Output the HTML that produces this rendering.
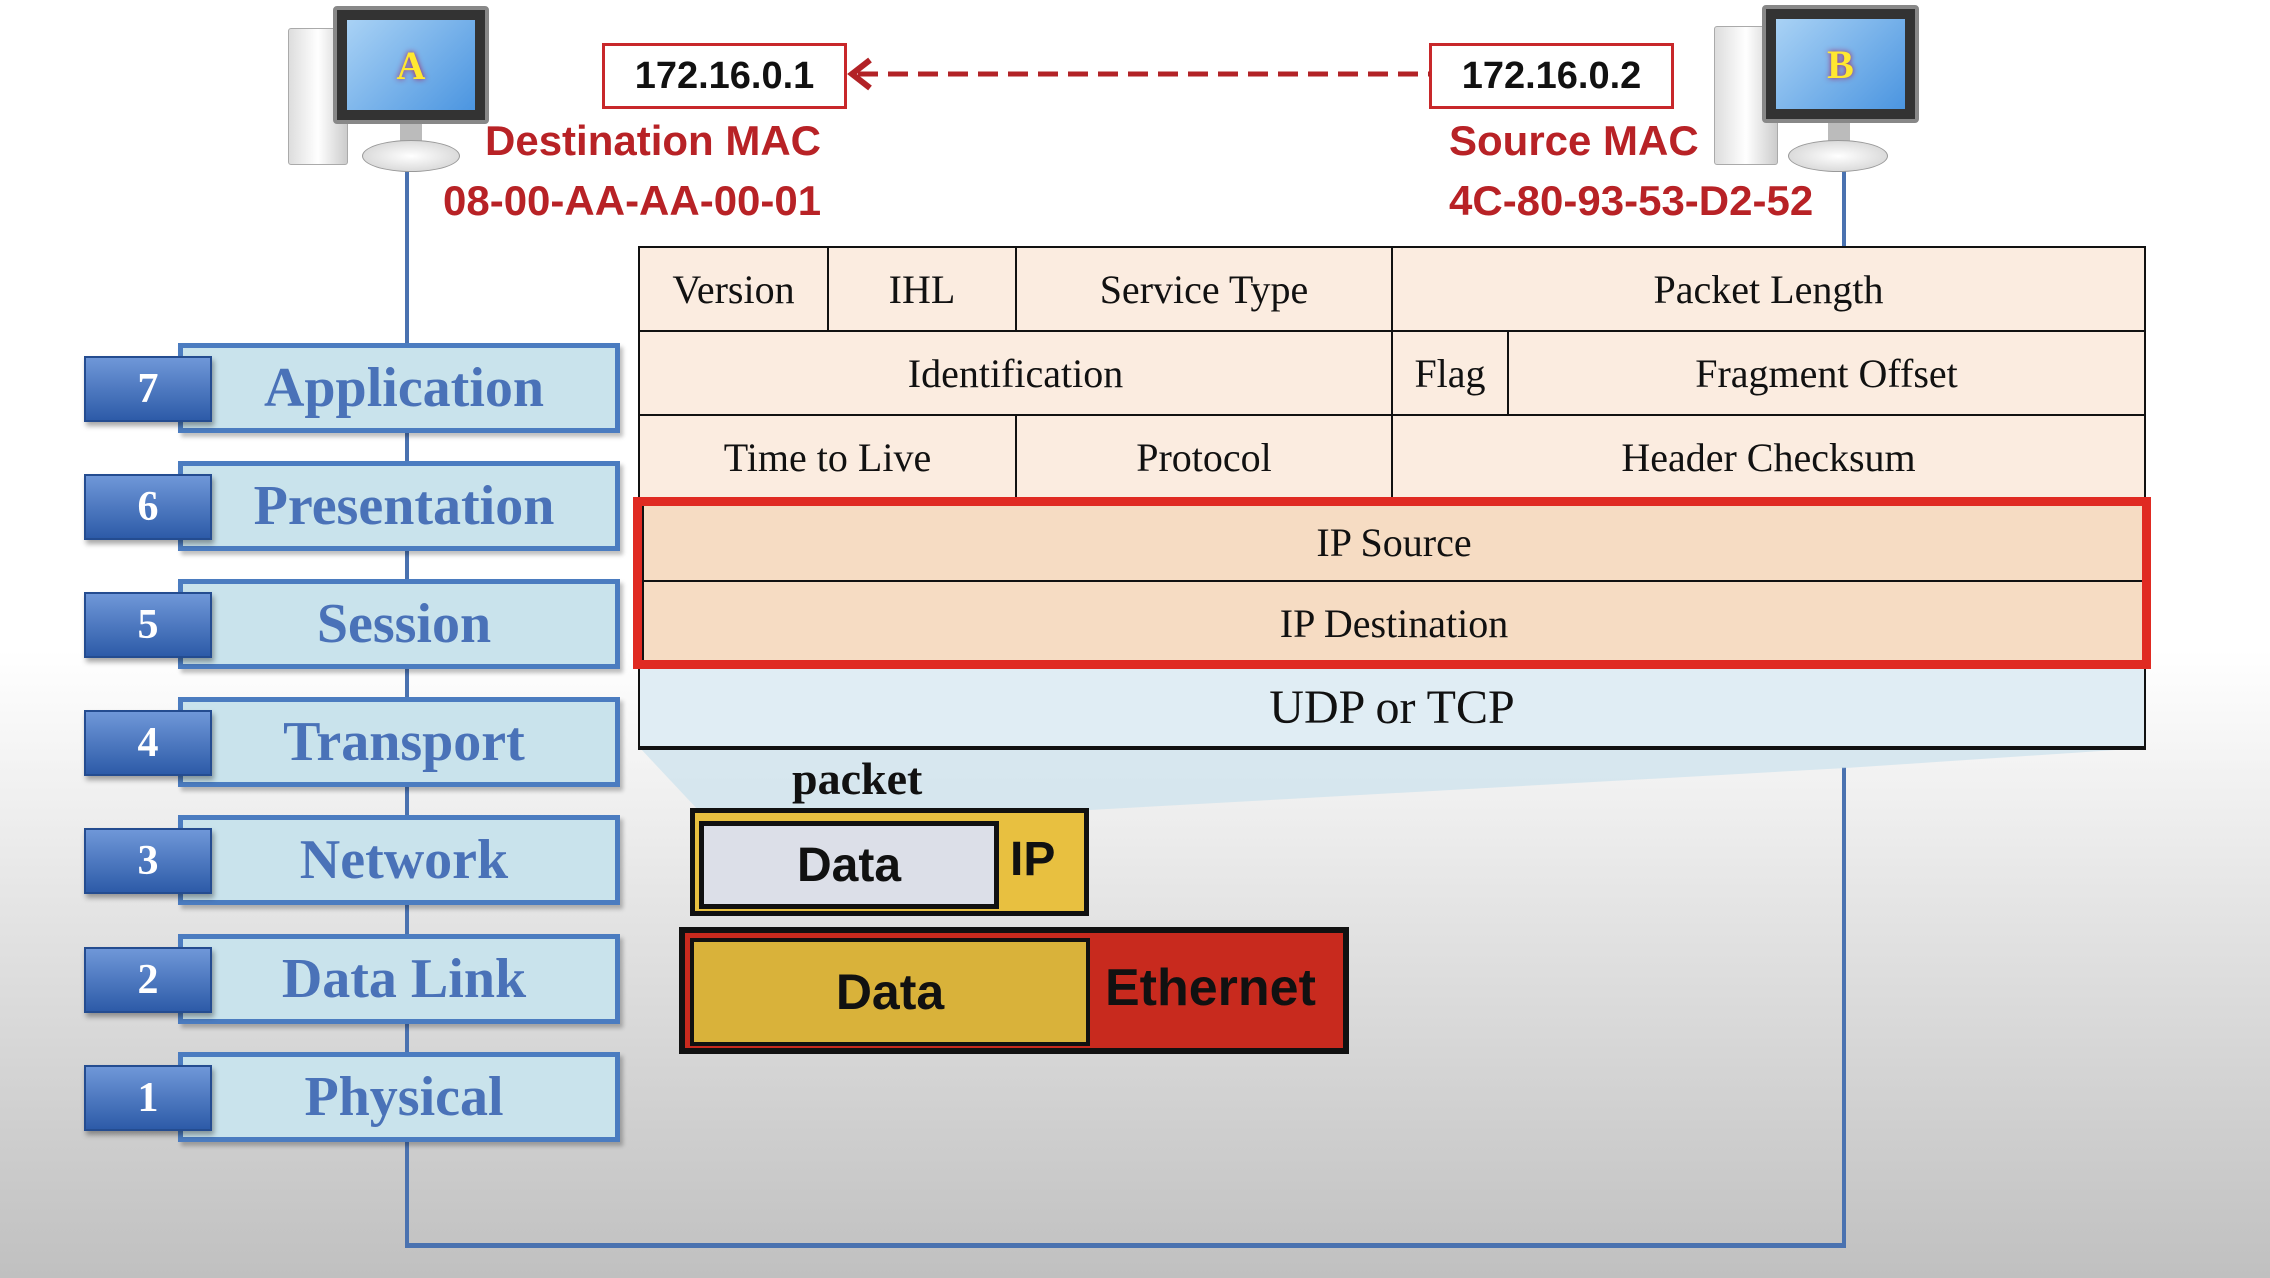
<!DOCTYPE html>
<html><head><meta charset="utf-8"><style>
*{margin:0;padding:0;box-sizing:border-box}
body{width:2270px;height:1278px;position:relative;overflow:hidden;font-family:"Liberation Sans",sans-serif;
background:linear-gradient(to bottom,#ffffff 0px,#ffffff 650px,#e2e2e2 930px,#c0c0c0 1278px)}
.a{position:absolute}
.ipb{position:absolute;border:3px solid #c8282a;background:#fff;font-weight:bold;font-size:38px;text-align:center;line-height:60px;color:#111}
.red{position:absolute;color:#b82226;font-weight:bold;font-size:42px;white-space:nowrap}
.cell{position:absolute;border:2px solid #111;background:#fbece0;font-family:"Liberation Serif",serif;font-size:40px;display:flex;align-items:center;justify-content:center;color:#111}
.lay{position:absolute;left:178px;width:442px;height:90px;background:#c9e3ec;border:5px solid #4b7cc0;box-shadow:3px 4px 4px rgba(0,0,0,.25);font-family:"Liberation Serif",serif;font-weight:bold;font-size:56px;color:#4a72b8;display:flex;align-items:center;justify-content:center;padding-left:10px}
.num{position:absolute;left:84px;width:128px;height:66px;background:linear-gradient(#6f97d8,#2d5ba8);border:2px solid #244c90;box-shadow:2px 4px 5px rgba(0,0,0,.35);color:#fff;font-family:"Liberation Serif",serif;font-weight:bold;font-size:42px;display:flex;align-items:center;justify-content:center}
.mon{position:absolute;background:#333;border:4px solid #888;border-radius:4px}
.scr{position:absolute;left:10px;top:10px;right:10px;bottom:10px;background:linear-gradient(135deg,#a9d2f5,#4b95e0);display:flex;align-items:center;justify-content:center;font-family:"Liberation Serif",serif;font-weight:bold;font-size:40px;color:#ffe830;text-shadow:0 0 6px #a02060}
.tow{position:absolute;background:linear-gradient(90deg,#ddd,#fff,#ccc);border:1px solid #aaa;border-radius:3px}
.base{position:absolute;background:radial-gradient(#fff,#ccc);border:1px solid #999;border-radius:50%}
</style></head><body>
<div class="a" style="left:405px;top:170px;width:4px;height:1077px;background:#4a72b0"></div>
<div class="a" style="left:405px;top:1243px;width:1441px;height:5px;background:#4a72b0"></div>
<div class="a" style="left:1842px;top:170px;width:4px;height:78px;background:#4a72b0"></div>
<div class="a" style="left:1842px;top:767px;width:4px;height:480px;background:#4a72b0"></div>

<div class="tow" style="left:288px;top:28px;width:60px;height:137px"></div>
<div class="a" style="left:400px;top:120px;width:22px;height:26px;background:#bbb"></div>
<div class="base" style="left:362px;top:140px;width:98px;height:32px"></div>
<div class="mon" style="left:333px;top:6px;width:156px;height:118px"><div class="scr">A</div></div>
<div class="tow" style="left:1714px;top:26px;width:64px;height:139px"></div>
<div class="a" style="left:1828px;top:120px;width:22px;height:26px;background:#bbb"></div>
<div class="base" style="left:1788px;top:140px;width:100px;height:32px"></div>
<div class="mon" style="left:1762px;top:5px;width:157px;height:118px"><div class="scr">B</div></div>

<div class="ipb" style="left:602px;top:43px;width:245px;height:66px">172.16.0.1</div>
<div class="ipb" style="left:1429px;top:43px;width:245px;height:66px">172.16.0.2</div>
<svg class="a" style="left:840px;top:56px" width="600" height="40">
<line x1="18" y1="18" x2="590" y2="18" stroke="#b22226" stroke-width="5" stroke-dasharray="20,10"/>
<polyline points="30,4 12,18 30,32" fill="none" stroke="#b22226" stroke-width="6"/>
</svg>
<div class="red" style="left:485px;top:117px">Destination MAC</div>
<div class="red" style="left:443px;top:177px">08-00-AA-AA-00-01</div>
<div class="red" style="left:1449px;top:117px">Source MAC</div>
<div class="red" style="left:1449px;top:177px">4C-80-93-53-D2-52</div>

<svg class="a" style="left:0;top:0" width="2270" height="1278">
<polygon points="640,748 2146,748 1846,768 1090,810 700,812" fill="#cfe3ee" opacity="0.8"/>
</svg>

<div class="cell" style="left:638px;top:246px;width:191px;height:86px">Version</div>
<div class="cell" style="left:827px;top:246px;width:190px;height:86px">IHL</div>
<div class="cell" style="left:1015px;top:246px;width:378px;height:86px">Service Type</div>
<div class="cell" style="left:1391px;top:246px;width:755px;height:86px">Packet Length</div>
<div class="cell" style="left:638px;top:330px;width:755px;height:86px">Identification</div>
<div class="cell" style="left:1391px;top:330px;width:118px;height:86px">Flag</div>
<div class="cell" style="left:1507px;top:330px;width:639px;height:86px">Fragment Offset</div>
<div class="cell" style="left:638px;top:414px;width:379px;height:86px">Time to Live</div>
<div class="cell" style="left:1015px;top:414px;width:378px;height:86px">Protocol</div>
<div class="cell" style="left:1391px;top:414px;width:755px;height:86px">Header Checksum</div>
<div class="cell" style="left:642px;top:502px;width:1504px;height:80px;background:#f6dcc3">IP Source</div>
<div class="cell" style="left:642px;top:580px;width:1504px;height:86px;background:#f6dcc3">IP Destination</div>
<div class="a" style="left:633px;top:497px;width:1518px;height:172px;border:9px solid #e02a22"></div>
<div class="cell" style="left:638px;top:669px;width:1508px;height:81px;background:#e0edf4;border-top:none;border-bottom:4px solid #111;font-size:48px">UDP or TCP</div>

<div class="lay" style="top:343px">Application</div><div class="num" style="top:356px">7</div>
<div class="lay" style="top:461px">Presentation</div><div class="num" style="top:474px">6</div>
<div class="lay" style="top:579px">Session</div><div class="num" style="top:592px">5</div>
<div class="lay" style="top:697px">Transport</div><div class="num" style="top:710px">4</div>
<div class="lay" style="top:815px">Network</div><div class="num" style="top:828px">3</div>
<div class="lay" style="top:934px">Data Link</div><div class="num" style="top:947px">2</div>
<div class="lay" style="top:1052px">Physical</div><div class="num" style="top:1065px">1</div>

<div class="a" style="left:792px;top:752px;font-family:'Liberation Serif',serif;font-weight:bold;font-size:46px;color:#111">packet</div>
<div class="a" style="left:690px;top:808px;width:399px;height:108px;background:#e8c040;border:5px solid #111"></div>
<div class="a" style="left:699px;top:821px;width:300px;height:88px;background:#dcdfe8;border:5px solid #111;font-weight:bold;font-size:48px;display:flex;align-items:center;justify-content:center;color:#111">Data</div>
<div class="a" style="left:1010px;top:832px;font-weight:bold;font-size:48px;color:#111">IP</div>
<div class="a" style="left:679px;top:927px;width:670px;height:127px;background:#c82a1e;border:6px solid #111"></div>
<div class="a" style="left:690px;top:938px;width:400px;height:108px;background:#d9b23a;border:4px solid #111;font-weight:bold;font-size:50px;display:flex;align-items:center;justify-content:center;color:#111">Data</div>
<div class="a" style="left:1105px;top:958px;font-weight:bold;font-size:52px;color:#111">Ethernet</div>
</body></html>
